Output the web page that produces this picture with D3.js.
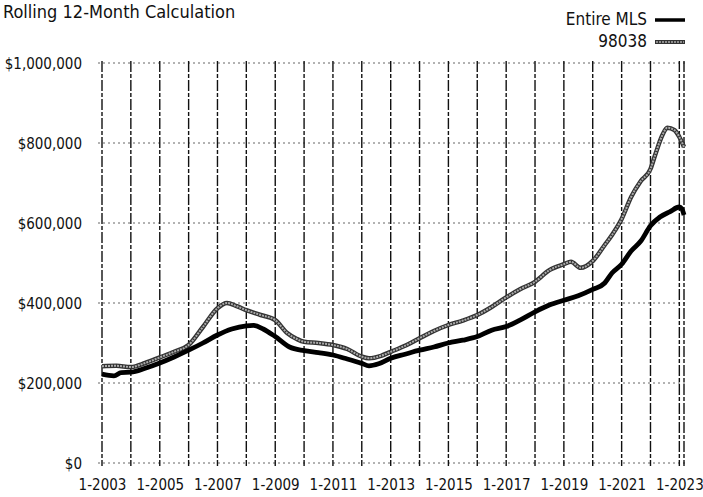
<!DOCTYPE html>
<html>
<head>
<meta charset="utf-8">
<script src="https://cdn.jsdelivr.net/npm/d3@7"></script>
<style>
  body { margin: 0; background: #fff; }
  svg text { font-family: "Liberation Sans Narrow", "DejaVu Sans Condensed", "Roboto", sans-serif; fill: #111; }
</style>
</head>
<body>
<div id="container"></div>
<script>
/* CONSTANTS AND GLOBALS */
const width = 703
const height = 497
const margin = {top: 63, right: 19, bottom: 34, left: 102}

const title = "Rolling 12-Month Calculation"
const seriesNames = ["Entire MLS", "98038"]
const yTicks = [0, 200000, 400000, 600000, 800000, 1000000]
const xLabelYears = [2003, 2005, 2007, 2009, 2011, 2013, 2015, 2017, 2019, 2021, 2023]

// Entire MLS, rolling 12-month median price
const mlsDates = ["2003-01","2003-06","2003-09","2004-01","2004-07","2005-01","2005-07","2006-01","2006-07","2007-01",
  "2007-07","2008-01","2008-04","2008-08","2009-01","2009-07","2010-01","2010-07","2011-01","2011-07",
  "2012-01","2012-04","2012-08","2013-01","2013-07","2014-01","2014-07","2015-01","2015-07","2016-01",
  "2016-07","2017-01","2017-07","2018-01","2018-07","2019-01","2019-07","2020-01","2020-06","2020-09",
  "2021-01","2021-05","2021-09","2022-01","2022-05","2022-09","2023-01","2023-02","2023-03"]
const mlsValues = [222000,218000,226000,227000,237000,250000,265000,282000,300000,320000,
  335000,343000,344000,335000,316000,290000,281000,276000,270000,260000,
  249000,243000,248000,262000,272000,282000,290000,300000,307000,316000,
  332000,341000,358000,378000,395000,407000,418000,434000,450000,475000,
  497000,530000,555000,593000,615000,628000,640000,636000,620000]

// 98038
const zipDates = ["2003-01","2003-07","2004-01","2004-07","2005-01","2005-07","2006-01","2006-07","2007-01","2007-05",
  "2007-09","2008-01","2008-07","2009-01","2009-06","2009-10","2010-01","2010-07","2011-01","2011-07",
  "2012-01","2012-04","2012-09","2013-01","2013-07","2014-01","2014-07","2015-01","2015-07","2016-01",
  "2016-07","2017-01","2017-07","2018-01","2018-07","2019-01","2019-04","2019-08","2020-01","2020-06",
  "2020-09","2021-01","2021-05","2021-09","2022-01","2022-03","2022-06","2022-08","2022-11","2023-01","2023-03"]
const zipValues = [242000,243000,240000,250000,264000,278000,295000,340000,387000,400000,
  392000,382000,370000,357000,325000,310000,303000,300000,295000,285000,
  266000,262000,268000,278000,293000,312000,330000,345000,356000,370000,
  390000,414000,435000,453000,482000,497000,503000,488000,505000,545000,
  570000,610000,665000,705000,735000,770000,820000,838000,832000,815000,790000]

const parse = d3.timeParse("%Y-%m")

const svg = d3.select("#container")
  .append("svg")
  .attr("width", width)
  .attr("height", height)
  .style("background-color", "white")

/* SCALES */
const xScale = d3.scaleTime()
  .domain([parse("2003-01"), parse("2023-03")])
  .range([margin.left, width - margin.right])

const yScale = d3.scaleLinear()
  .domain([0, 1000000])
  .range([height - margin.bottom, margin.top])

/* GRID */
// horizontal dotted lines
svg.append("g")
  .selectAll("line")
  .data(yTicks)
  .join("line")
  .attr("x1", margin.left - 4)
  .attr("x2", width - margin.right + 2)
  .attr("y1", d => yScale(d))
  .attr("y2", d => yScale(d))
  .attr("stroke", "#666")
  .attr("stroke-width", 1)
  .attr("stroke-dasharray", "2,3")

// vertical dashed lines, one per year plus the right edge
const yearLines = d3.range(2003, 2024).map(y => new Date(y, 0, 1)).concat([parse("2023-03")])
svg.append("g")
  .selectAll("line")
  .data(yearLines)
  .join("line")
  .attr("x1", d => xScale(d))
  .attr("x2", d => xScale(d))
  .attr("y1", margin.top - 2)
  .attr("y2", height - margin.bottom + 3)
  .attr("stroke", "#111")
  .attr("stroke-width", 1.4)
  .attr("stroke-dasharray", "11,2,4,2")

/* AXES (labels only) */
const yAxis = svg.append("g")
  .attr("transform", `translate(${margin.left - 20},0)`)
  .call(d3.axisLeft(yScale).tickValues(yTicks).tickSize(0).tickFormat(d => "$" + d3.format(",")(d)))
yAxis.select(".domain").remove()
yAxis.selectAll("text")
  .attr("x", 0)
  .attr("dy", "0.35em")
  .style("font-size", "15px")
  .style("font-family", null)

const xAxis = svg.append("g")
  .attr("transform", `translate(0,${height - margin.bottom})`)
  .call(d3.axisBottom(xScale).tickValues(xLabelYears.map(y => new Date(y, 0, 1))).tickSize(0).tickFormat(d3.timeFormat("1-%Y")))
xAxis.select(".domain").remove()
xAxis.selectAll("text")
  .attr("y", 27)
  .attr("dy", 0)
  .style("font-size", "15px")
  .style("font-family", null)

/* LINES */
const line = d3.line()
  .x(d => xScale(d.date))
  .y(d => yScale(d.value))
  .curve(d3.curveMonotoneX)

const mlsData = mlsDates.map((d, i) => ({date: parse(d), value: mlsValues[i]}))
const zipData = zipDates.map((d, i) => ({date: parse(d), value: zipValues[i]}))

svg.append("path")
  .datum(zipData)
  .attr("d", line)
  .attr("fill", "none")
  .attr("stroke", "#333")
  .attr("stroke-width", 4.5)
svg.append("path")
  .datum(zipData)
  .attr("d", line)
  .attr("fill", "none")
  .attr("stroke", "#aaa")
  .attr("stroke-width", 2)
  .attr("stroke-dasharray", "2,1")

svg.append("path")
  .datum(mlsData)
  .attr("d", line)
  .attr("fill", "none")
  .attr("stroke", "#000")
  .attr("stroke-width", 4.8)

/* TITLE & LEGEND */
svg.append("text")
  .attr("x", 3)
  .attr("y", 18)
  .style("font-size", "18px")
  .text(title)

const legend = svg.append("g")
legend.selectAll("text")
  .data(seriesNames)
  .join("text")
  .attr("x", 647)
  .attr("y", (d, i) => 25 + i * 22)
  .attr("text-anchor", "end")
  .style("font-size", "17px")
  .text(d => d)

legend.append("line")
  .attr("x1", 655).attr("x2", 685)
  .attr("y1", 20).attr("y2", 20)
  .attr("stroke", "#000").attr("stroke-width", 3.5)
legend.append("line")
  .attr("x1", 655).attr("x2", 685)
  .attr("y1", 42).attr("y2", 42)
  .attr("stroke", "#333").attr("stroke-width", 4)
legend.append("line")
  .attr("x1", 656).attr("x2", 684)
  .attr("y1", 42).attr("y2", 42)
  .attr("stroke", "#aaa").attr("stroke-width", 1.6)
  .attr("stroke-dasharray", "2,1")
</script>
</body>
</html>
